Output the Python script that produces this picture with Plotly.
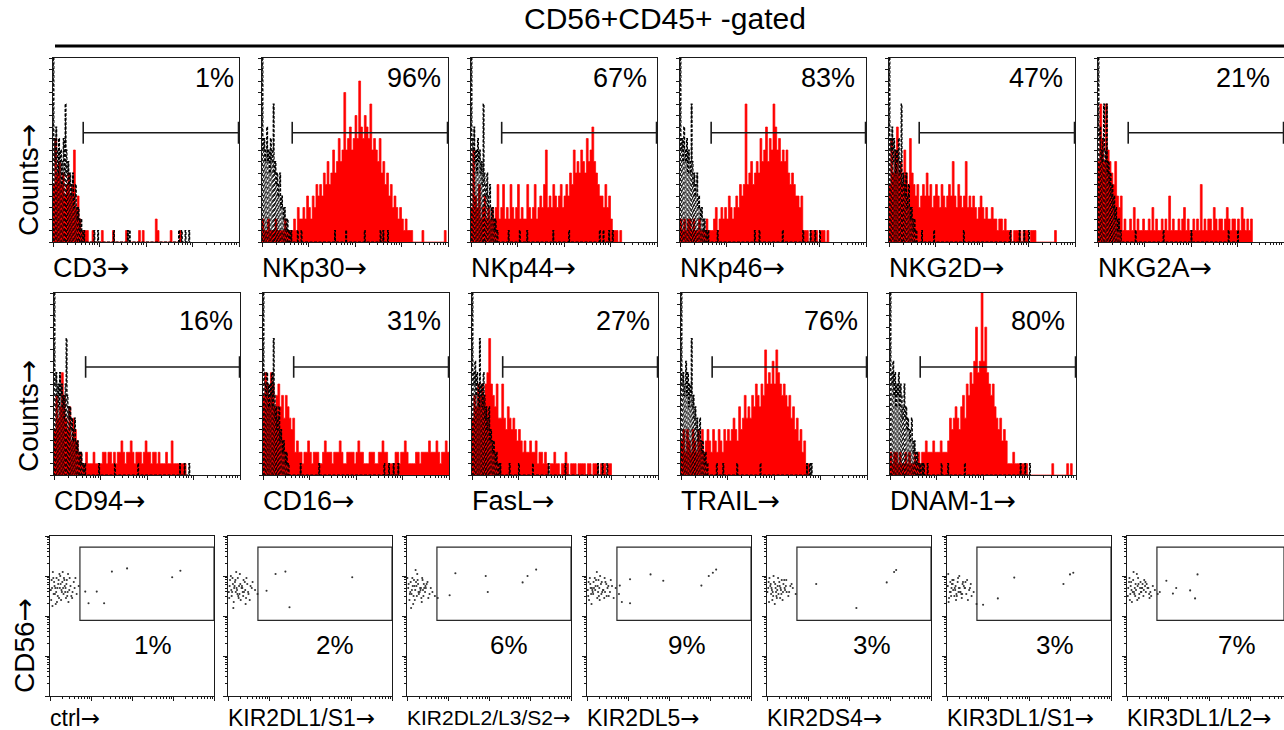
import math
import plotly.graph_objects as go

W, H = 1284, 730
BIN = 0.04          # decades per stained-histogram channel bin
CTL_BIN = 0.02      # decades per control-histogram channel bin
DECADES = 4
HIST_YMAX = 16
FONT = "Liberation Sans, Arial, Helvetica, sans-serif"
ARROW = "<span style='font-family:DejaVu Sans'>\u2192</span>"

title_text = "CD56+CD45+ -gated"

row1_markers = ["CD3", "NKp30", "NKp44", "NKp46", "NKG2D", "NKG2A"]
row1_pct = ["1%", "96%", "67%", "83%", "47%", "21%"]
row2_markers = ["CD94", "CD16", "FasL", "TRAIL", "DNAM-1"]
row2_pct = ["16%", "31%", "27%", "76%", "80%"]
row3_markers = ["ctrl", "KIR2DL1/S1", "KIR2DL2/L3/S2", "KIR2DL5", "KIR2DS4", "KIR3DL1/S1", "KIR3DL1/L2"]
row3_pct = ["1%", "2%", "6%", "9%", "3%", "3%", "7%"]

# gate start (decades) of the positive-marker bar in each histogram
hist_gate_start = [0.65, 0.65, 0.66, 0.67, 0.65, 0.65, 0.68, 0.66, 0.66, 0.67, 0.65]
hist_gate_level = 9.5
# KIR dot-plot gates (decades)
kir_gate_x0, kir_gate_y0, kir_gate_y1 = 0.73, 1.89, 3.72

# ---- stained (red) histograms: counts per channel bin, from channel 0 ----
red_CD3 = [5, 9, 6, 7, 5, 6, 4, 5, 6, 4, 5, 8, 3, 4, 2, 1, 1, 1, 1, 0, 0, 1, 0, 0, 0, 0, 1, 0, 0, 0,
           0, 0, 1, 0, 0, 0, 0, 0, 0, 1, 0, 0, 0, 0, 0, 0, 1, 0, 1, 0, 0, 0, 0, 0, 0, 2, 1, 0, 0, 0,
           0, 0, 0, 1, 0, 0, 0, 0, 1]
red_NKp30 = [2, 1, 1, 2, 1, 1, 1, 2, 1, 1, 1, 1, 2, 1, 1, 1, 1,
             2, 1, 3, 2, 2, 3, 2, 4, 3, 2, 4, 3, 5, 4,
             5, 4, 6, 5, 7, 5, 6, 8, 6, 7, 9, 7, 8, 13,
             8, 9, 10, 8, 9, 11, 9, 14, 10, 9, 11, 10, 9, 12, 8, 9,
             8, 7, 9, 6, 7, 5, 6, 4, 5, 3, 4, 3, 2, 3, 2, 1, 2, 1, 1, 1,
             0, 0, 0, 0, 0, 1, 0, 0, 0, 0, 0, 0, 0, 0, 0, 0, 0, 1]
red_NKp44 = [3, 8, 4, 3, 5, 2, 3, 4, 2, 3, 2, 3, 2,
             3, 5, 2, 3, 5, 2, 3, 2, 5, 3, 2, 3, 5, 2, 3, 2, 2, 5, 3, 2, 3, 5, 2,
             3, 4, 3, 5, 8, 3, 4, 3, 5, 4, 3, 4, 5, 3, 4,
             5, 4, 6, 5, 8, 6, 7, 6, 8, 7, 6, 9, 7, 8, 10, 7, 6, 5, 4,
             4, 3, 5, 3, 4, 2,
             1, 1, 1, 0, 1]
red_NKp46 = [2, 1, 2, 1, 2, 2, 1, 2, 1, 1, 2, 1, 1, 1, 2, 1, 1,
             1, 2, 3, 1, 2, 3, 2, 3, 2, 4, 3, 2, 3, 4,
             3, 5, 4, 5, 12, 5, 6, 7, 5, 6,
             7, 6, 9, 7, 8, 10, 7, 9, 8, 12, 10, 8, 9, 7, 8,
             7, 8, 6, 5, 6, 5, 4, 4, 3, 4,
             1, 1, 1, 0, 1, 1, 1, 1, 0, 1, 1, 1, 0, 1]
red_NKG2D = [5, 9, 6, 8, 10, 6, 7, 5, 8, 6, 5, 9, 6,
             5, 4, 5, 3, 4, 5, 4, 6, 4, 5, 3, 4, 5, 4, 3, 5, 4, 3, 4, 5, 4, 7, 4, 3, 5, 4, 3,
             4, 7, 3, 4, 3, 4, 3, 2, 3, 4, 3,
             2, 3, 2, 2, 3, 2, 2, 1, 2, 2, 1, 2,
             1, 1, 1, 0, 1, 1, 1, 1, 0, 1, 1, 1, 0, 1, 1, 1,
             0, 0, 0, 0, 0, 0, 0, 0, 0, 0, 1]
red_NKG2A = [7, 12, 9, 7, 12, 8, 7, 6, 5, 7, 4, 3, 4,
             1, 2, 1, 1, 2, 1, 3, 1, 2, 1, 1, 2, 1, 1, 2, 1, 3, 1, 2, 1, 1, 2, 1, 2, 1, 4,
             1, 2, 1, 1, 2, 1, 2, 3, 1, 2, 1, 1, 2, 1, 2, 1, 5, 1, 2, 1, 2, 2, 1, 3, 2, 1,
             2, 2, 1, 2, 3, 2, 1, 2, 2, 1, 2, 1, 3, 2, 1, 2, 1, 2]
red_CD94 = [4, 7, 5, 6, 9, 7, 5, 4, 6, 3, 5, 4, 3, 2, 2,
            1, 1, 2, 1, 1, 1, 2, 1, 1, 1, 1, 2, 2, 1, 2, 2, 1, 2, 1, 2, 2, 3, 2, 1, 2, 2,
            3, 2, 1, 2, 2, 2, 1, 2, 3, 2, 2, 1, 2, 2, 1, 2, 1, 1, 1, 2, 1, 1, 3, 1, 1, 1,
            1, 1, 1, 1]
red_CD16 = [7, 9, 8, 7, 9, 8, 6, 7, 8, 6, 7, 5, 7, 6, 5, 4, 5,
            2, 3, 2, 2, 1, 2, 2, 3, 2, 1, 2, 2, 2, 1, 1, 2, 3, 2, 2, 2, 1, 2, 2, 2, 3, 2,
            1, 1, 2, 2, 2, 2, 1, 2, 3, 2, 2, 1, 1, 1, 2, 2, 2, 1, 1, 2, 2, 3, 2, 2, 1, 1,
            1, 1, 2, 2, 1, 2, 2, 3, 2, 1, 1, 1, 1, 2, 2, 1, 2, 2, 2, 2, 3, 2, 2, 2, 3, 2,
            1, 2, 2, 3, 2]
red_FasL = [5, 7, 6, 8, 7, 8, 7, 8, 9, 12, 8, 7, 6, 8, 5,
            5, 8, 5, 4, 6, 5, 4, 5, 4, 3, 4,
            3, 2, 3, 2, 2, 3, 2, 2, 3, 1, 2, 2,
            1, 2, 1, 0, 1, 1, 2, 1, 1, 0, 1, 1, 2, 1, 0, 1, 1, 1, 0, 1, 1, 1, 1, 0, 1, 1,
            0, 1, 1, 1, 0, 1, 1, 1, 0, 1, 1]
red_TRAIL = [3, 4, 2, 4, 3, 2, 4, 3, 2, 4, 3, 4, 2, 3, 4, 3, 2, 4, 3, 2, 4, 3, 2, 4, 3, 4,
             3, 4, 5, 4, 3, 6, 4, 5, 7, 5, 6, 5, 7, 6, 8, 7, 6, 8, 7, 11,
             8, 9, 8, 10, 8, 11, 9, 8, 7, 8,
             7, 6, 7, 5, 6, 4, 5, 3, 4, 2, 3,
             1, 1]
red_DNAM1 = [2, 1, 2, 2, 1, 2, 1, 1, 2, 1, 2, 1, 1, 2, 1, 2, 1,
             2, 2, 3, 2, 2, 2, 3, 2, 2, 2, 3, 2, 2, 2, 3,
             5, 4, 5, 6, 5, 4, 6, 7, 5, 8, 7,
             9, 8, 10, 13, 9, 10, 16, 10, 13,
             9, 8, 7, 8, 6, 5, 4, 5, 3, 4, 3,
             1, 1, 1, 2, 1, 1, 1, 1, 1, 1, 1,
             0, 0, 0, 0, 0, 0, 0, 0, 0, 0, 0, 0, 0, 1, 0, 0, 0, 0, 0, 0, 0, 1, 0, 1]

# ---- isotype control (black dashed): peak counts per fine bin + isolated single events (decades) ----
ctl_CD3 = [16, 9, 7, 10, 8, 6, 9, 7, 8, 5, 7, 9, 6, 12, 8, 6, 7, 5, 6, 4, 5, 6, 3, 4, 5, 3, 2, 3, 2, 1, 2, 1, 0, 1]
ctl_CD3_events = [0.88, 0.95, 1.3, 1.6, 1.65, 2.7, 2.75, 2.85, 2.92]
ctl_NKp30 = [16, 8, 9, 7, 8, 10, 7, 8, 6, 9, 7, 8, 12, 6, 7, 5, 6, 4, 5, 6, 3, 4, 3, 2, 3, 2, 1, 2, 1, 1, 0, 1]
ctl_NKp30_events = [0.75, 0.85, 1.55, 1.8, 2.2, 2.55, 2.6, 2.7]
ctl_NKp44 = [16, 9, 8, 10, 7, 8, 6, 9, 7, 8, 6, 7, 5, 12, 6, 5, 4, 6, 3, 4, 5, 3, 2, 3, 2, 1, 2, 1, 1]
ctl_NKp44_events = [0.8, 1.05, 1.2, 1.75, 2.1, 2.75, 2.85, 2.95, 3.05]
ctl_NKp46 = [16, 8, 9, 7, 10, 8, 7, 9, 6, 8, 7, 6, 12, 7, 5, 6, 4, 5, 6, 3, 4, 3, 2, 3, 2, 1, 2, 1, 1, 0, 1]
ctl_NKp46_events = [0.8, 1.6, 1.7, 2.2, 2.65, 2.8, 2.9, 3.0]
ctl_NKG2D = [16, 9, 8, 10, 7, 9, 8, 6, 8, 7, 9, 6, 7, 12, 5, 6, 5, 4, 6, 3, 4, 5, 3, 2, 3, 2, 1, 2, 1, 1]
ctl_NKG2D_events = [0.7, 0.95, 1.6, 2.6, 2.8, 2.9, 3.0]
ctl_NKG2A = [16, 9, 10, 8, 7, 9, 12, 8, 7, 12, 6, 7, 5, 6, 4, 5, 3, 4, 2, 3, 2, 1, 2, 1, 1]
ctl_NKG2A_events = [0.8, 1.4, 2.0, 2.8, 3.0]
ctl_CD94 = [16, 8, 9, 7, 8, 6, 9, 7, 8, 6, 7, 5, 8, 12, 7, 6, 5, 6, 4, 5, 3, 4, 5, 3, 2, 3, 2, 2, 1, 2, 1, 1, 0, 1]
ctl_CD94_events = [0.95, 1.3, 1.8, 2.7, 2.8, 2.9]
ctl_CD16 = [16, 9, 8, 7, 9, 8, 6, 8, 7, 9, 6, 12, 7, 5, 6, 4, 5, 6, 3, 4, 3, 2, 3, 2, 1, 2, 1, 1]
ctl_CD16_events = [0.8, 1.2, 2.6, 2.7, 2.8, 2.9]
ctl_FasL = [16, 9, 8, 10, 7, 9, 8, 6, 12, 7, 8, 6, 9, 7, 5, 6, 4, 5, 6, 3, 4, 3, 2, 3, 2, 1, 2, 1, 1, 0, 1]
ctl_FasL_events = [0.8, 1.0, 1.3, 1.65, 2.0, 2.7, 2.8, 2.9]
ctl_TRAIL = [16, 8, 9, 7, 8, 10, 7, 9, 6, 8, 7, 12, 6, 7, 5, 6, 4, 5, 3, 4, 5, 3, 2, 3, 2, 1, 2, 1, 1]
ctl_TRAIL_events = [0.75, 0.9, 1.2, 1.7, 2.7, 2.75, 2.8]
ctl_DNAM1 = [16, 9, 8, 10, 7, 9, 6, 8, 7, 9, 6, 8, 7, 5, 6, 8, 5, 6, 4, 5, 4, 3, 4, 5, 3, 2, 3, 2, 1, 2, 1, 1, 0, 1, 1, 0, 1]
ctl_DNAM1_events = [0.8, 1.1, 1.25, 1.6, 2.8, 2.9, 3.0]

hist_red = [red_CD3, red_NKp30, red_NKp44, red_NKp46, red_NKG2D, red_NKG2A,
            red_CD94, red_CD16, red_FasL, red_TRAIL, red_DNAM1]
hist_ctl = [ctl_CD3, ctl_NKp30, ctl_NKp44, ctl_NKp46, ctl_NKG2D, ctl_NKG2A,
            ctl_CD94, ctl_CD16, ctl_FasL, ctl_TRAIL, ctl_DNAM1]
hist_ctl_events = [ctl_CD3_events, ctl_NKp30_events, ctl_NKp44_events, ctl_NKp46_events,
                   ctl_NKG2D_events, ctl_NKG2A_events, ctl_CD94_events, ctl_CD16_events,
                   ctl_FasL_events, ctl_TRAIL_events, ctl_DNAM1_events]

# ---- KIR dot plots: (log10 KIR, log10 CD56) events ----
kir_ctrl_x = [0.05, 0.12, 0.2, 0.28, 0.35, 0.42, 0.5, 0.08, 0.15, 0.22, 0.3, 0.38, 0.45, 0.55, 0.03, 0.1, 0.18, 0.25, 0.33, 0.4,
              0.48, 0.6, 0.07, 0.14, 0.21, 0.29, 0.36, 0.44, 0.52, 0.02, 0.11, 0.19, 0.27, 0.34, 0.43, 0.58, 0.65, 0.06, 0.16, 0.24,
              0.31, 0.39, 0.47, 0.09, 0.17, 0.26, 0.37, 0.7, 0.13, 0.23, 0.32, 0.41, 0.04, 0.54, 0.62,
              0.86, 1.14, 0.94, 1.32, 1.51, 1.88, 2.98, 3.18]
kir_ctrl_y = [2.7, 2.55, 2.8, 2.65, 2.9, 2.5, 2.75, 2.95, 2.6, 2.45, 2.85, 2.7, 2.35, 2.6, 2.4, 2.85, 2.7, 3.0, 2.55, 2.8,
              2.95, 2.7, 3.1, 2.3, 2.9, 2.6, 2.75, 3.05, 2.5, 2.65, 2.75, 2.5, 2.4, 2.95, 2.6, 2.85, 2.55, 2.25, 2.95, 2.7,
              3.1, 2.45, 2.65, 2.55, 2.35, 2.8, 2.6, 2.75, 2.7, 3.05, 2.7, 2.9, 2.9, 2.45, 2.95,
              2.61, 2.61, 2.32, 2.32, 3.11, 3.19, 2.97, 3.13]
kir_2dl1_x = [0.04, 0.1, 0.18, 0.26, 0.33, 0.41, 0.5, 0.58, 0.07, 0.14, 0.22, 0.3, 0.37, 0.45, 0.53, 0.02, 0.12, 0.2, 0.28, 0.35,
              0.43, 0.6, 0.09, 0.16, 0.24, 0.31, 0.39, 0.47, 0.66, 0.05, 0.13, 0.21, 0.29, 0.36, 0.44, 0.55, 0.08, 0.17, 0.25, 0.34,
              0.42, 0.72, 0.03, 0.11, 0.19, 0.27, 0.38, 0.49, 0.15, 0.23,
              0.94, 1.16, 1.4, 1.5, 3.03]
kir_2dl1_y = [2.75, 2.6, 2.9, 2.45, 2.7, 2.85, 2.55, 2.7, 3.0, 2.35, 2.65, 2.8, 2.5, 2.95, 2.4, 2.6, 2.8, 3.1, 2.55, 2.7,
              2.3, 2.85, 2.5, 2.75, 2.95, 2.4, 2.6, 2.8, 2.65, 2.9, 2.2, 2.7, 3.05, 2.6, 2.45, 2.75, 2.65, 2.85, 2.5, 2.75,
              2.65, 2.55, 2.45, 2.95, 2.6, 2.75, 2.9, 2.6, 2.7, 2.55,
              2.63, 3.05, 3.11, 2.22, 2.97]
kir_2dl2_x = [0.03, 0.09, 0.16, 0.23, 0.31, 0.38, 0.46, 0.55, 0.06, 0.13, 0.2, 0.27, 0.35, 0.42, 0.5, 0.62, 0.01, 0.11, 0.18, 0.25,
              0.33, 0.4, 0.48, 0.58, 0.08, 0.15, 0.22, 0.29, 0.37, 0.44, 0.52, 0.04, 0.12, 0.19, 0.26, 0.34, 0.41, 0.68, 0.07, 0.14,
              0.21, 0.28, 0.36, 0.45, 0.1, 0.17, 0.24, 0.32, 0.39, 0.75,
              1.18, 1.92, 1.97, 2.82, 2.94, 3.15, 1.04]
kir_2dl2_y = [2.7, 2.85, 2.5, 2.75, 2.6, 2.9, 2.7, 2.55, 2.4, 2.95, 2.65, 2.8, 2.45, 2.7, 2.85, 2.6, 2.95, 2.55, 2.75, 3.05,
              2.65, 2.5, 2.8, 2.7, 2.6, 2.3, 2.85, 2.55, 2.95, 2.6, 2.45, 2.8, 2.65, 2.4, 2.9, 2.7, 2.8, 2.5, 2.55, 2.75,
              3.15, 2.6, 2.35, 2.75, 2.2, 2.9, 2.5, 2.7, 2.65, 2.45,
              3.07, 3.0, 2.6, 2.84, 3.0, 3.16, 2.52]
kir_2dl5_x = [0.02, 0.08, 0.15, 0.22, 0.3, 0.37, 0.45, 0.53, 0.61, 0.05, 0.12, 0.19, 0.27, 0.34, 0.42, 0.5, 0.58, 0.04, 0.1, 0.17,
              0.25, 0.32, 0.4, 0.47, 0.56, 0.7, 0.07, 0.14, 0.21, 0.29, 0.36, 0.44, 0.52, 0.65, 0.03, 0.11, 0.2, 0.28, 0.35, 0.43,
              0.78, 0.09, 0.16, 0.24, 0.31, 0.39, 0.48, 0.85, 0.13, 0.26,
              0.8, 1.05, 1.55, 1.86, 2.79, 2.97, 3.15, 3.07, 1.05]
kir_2dl5_y = [2.65, 2.8, 2.55, 2.9, 2.7, 2.6, 2.85, 2.5, 2.75, 2.4, 2.7, 2.95, 2.6, 2.8, 2.45, 2.7, 2.9, 2.85, 2.55, 2.7,
              2.45, 3.0, 2.65, 2.8, 2.6, 2.7, 2.95, 2.6, 2.75, 2.5, 2.85, 2.6, 2.75, 2.45, 2.5, 2.3, 2.65, 2.9, 2.55, 2.95,
              2.55, 2.7, 2.85, 3.1, 2.4, 2.65, 2.5, 2.35, 2.65, 2.75,
              2.76, 2.92, 3.04, 2.88, 2.76, 3.0, 3.16, 3.08, 2.32]
kir_2ds4_x = [0.03, 0.1, 0.17, 0.25, 0.32, 0.4, 0.48, 0.57, 0.06, 0.13, 0.21, 0.28, 0.36, 0.44, 0.52, 0.01, 0.09, 0.16, 0.23, 0.31,
              0.39, 0.47, 0.63, 0.05, 0.12, 0.2, 0.27, 0.35, 0.43, 0.54, 0.08, 0.15, 0.22, 0.3, 0.38, 0.46, 0.7, 0.04, 0.11, 0.19,
              0.26, 0.34, 0.42, 0.14, 0.24, 0.33, 0.6,
              2.18, 2.92, 3.1, 3.15, 1.2]
kir_2ds4_y = [2.7, 2.55, 2.85, 2.65, 2.45, 2.8, 2.6, 2.75, 2.95, 2.4, 2.7, 2.55, 2.9, 2.65, 2.5, 2.6, 2.8, 3.0, 2.5, 2.75,
              2.6, 2.9, 2.7, 2.35, 2.65, 2.8, 2.95, 2.55, 2.7, 2.6, 2.75, 2.5, 2.6, 2.85, 2.4, 2.75, 2.55, 2.85, 2.7, 2.3,
              2.75, 2.65, 2.9, 2.6, 2.45, 2.7, 2.8,
              2.2, 2.84, 3.1, 3.15, 2.8]
kir_3dl1s1_x = [0.02, 0.09, 0.16, 0.24, 0.31, 0.39, 0.47, 0.56, 0.65, 0.05, 0.12, 0.2, 0.27, 0.35, 0.43, 0.51, 0.03, 0.11, 0.18, 0.26,
                0.33, 0.41, 0.49, 0.6, 0.07, 0.14, 0.22, 0.29, 0.37, 0.45, 0.54, 0.04, 0.13, 0.21, 0.28, 0.36, 0.44, 0.72, 0.08, 0.15,
                0.23, 0.3, 0.38, 0.1, 0.19, 0.32, 0.58,
                1.64, 1.24, 3.0, 2.84, 3.08, 0.88]
kir_3dl1s1_y = [2.75, 2.6, 2.9, 2.5, 2.7, 2.85, 2.55, 2.7, 2.6, 2.45, 2.8, 2.65, 2.95, 2.55, 2.7, 2.4, 3.05, 2.7, 2.5, 2.85,
                2.6, 2.75, 2.9, 2.5, 2.6, 2.8, 2.4, 2.7, 2.55, 2.85, 2.65, 2.35, 2.9, 2.75, 2.6, 2.45, 2.7, 2.3, 2.85, 2.65,
                2.55, 3.0, 2.8, 2.5, 2.7, 2.6, 2.8,
                2.96, 2.44, 3.04, 2.8, 3.08, 2.28]
kir_3dl1l2_x = [0.03, 0.1, 0.18, 0.26, 0.34, 0.42, 0.5, 0.59, 0.68, 0.06, 0.14, 0.21, 0.29, 0.37, 0.45, 0.54, 0.63, 0.02, 0.09, 0.17,
                0.24, 0.32, 0.4, 0.48, 0.57, 0.75, 0.07, 0.15, 0.22, 0.3, 0.38, 0.46, 0.55, 0.05, 0.12, 0.19, 0.27, 0.35, 0.44, 0.52,
                0.8, 0.08, 0.16, 0.25, 0.33, 0.41, 0.11, 0.2, 0.28, 0.36,
                1.2, 1.54, 1.72, 1.66, 0.96, 1.12]
kir_3dl1l2_y = [2.7, 2.85, 2.55, 2.75, 2.6, 2.9, 2.7, 2.5, 2.65, 2.95, 2.6, 2.8, 2.45, 2.7, 2.85, 2.55, 2.75, 2.5, 2.75, 2.6,
                3.05, 2.7, 2.5, 2.8, 2.6, 2.55, 2.4, 2.9, 2.65, 2.55, 2.8, 2.6, 2.45, 2.85, 2.35, 2.7, 2.95, 2.6, 2.75, 2.7,
                2.6, 2.55, 3.1, 2.4, 2.85, 2.65, 2.65, 2.5, 2.8, 2.7,
                2.7, 2.64, 3.04, 2.44, 2.88, 2.56]
kir_x = [kir_ctrl_x, kir_2dl1_x, kir_2dl2_x, kir_2dl5_x, kir_2ds4_x, kir_3dl1s1_x, kir_3dl1l2_x]
kir_y = [kir_ctrl_y, kir_2dl1_y, kir_2dl2_y, kir_2dl5_y, kir_2ds4_y, kir_3dl1s1_y, kir_3dl1l2_y]

# ---------------------------------------------------------------- layout helpers
def fx(px):
    return px / W

def fy(py):
    return 1 - py / H

major = list(range(DECADES + 1))
minor = [d + math.log10(k) for d in range(DECADES) for k in range(2, 10)]

fig = go.Figure()
shapes = []
annotations = []
layout_axes = {}

def axis_names(n):
    return ("xaxis" if n == 1 else f"xaxis{n}", "yaxis" if n == 1 else f"yaxis{n}",
            "x" if n == 1 else f"x{n}", "y" if n == 1 else f"y{n}")

def base_axis(domain, rng, tickvals, minorvals, ticklen):
    d = dict(domain=domain, range=rng, showgrid=False, zeroline=False, showline=True, mirror=True,
             linecolor="#1a1a1a", linewidth=1.2, ticks="outside", tickvals=tickvals, ticklen=ticklen,
             tickwidth=1, tickcolor="#1a1a1a", showticklabels=False, fixedrange=True)
    if minorvals is not None:
        d["minor"] = dict(tickvals=minorvals, ticks="outside", ticklen=2, tickwidth=1, tickcolor="#1a1a1a")
    return d

# histogram panel geometry (pixels)
hist_geo = []
for k in range(6):
    hist_geo.append((53 + k * 209, 58, 186, 184))
for k in range(5):
    hist_geo.append((54 + k * 209, 293, 186, 182))
pct_pad = [3, 5, 8, 9, 10, 12, 5, 6, 6, 7, 9]
hist_labels = row1_markers + row2_markers
hist_pcts = row1_pct + row2_pct

for i in range(11):
    n = i + 1
    xa, ya, xr, yr = axis_names(n)
    left, top, w, h = hist_geo[i]
    layout_axes[xa] = base_axis([fx(left), fx(left + w)], [0, DECADES], major, minor, 4)
    layout_axes[xa]["anchor"] = yr
    layout_axes[ya] = base_axis([fy(top + h), fy(top)], [0, HIST_YMAX], list(range(0, HIST_YMAX + 1)), None, 3)
    layout_axes[ya]["anchor"] = xr

    red = hist_red[i]
    xs = [j * BIN for j in range(len(red))] + [len(red) * BIN]
    ys = list(red) + [0]
    fig.add_trace(go.Scatter(x=xs, y=ys, mode="lines", line=dict(shape="hv", color="#ff0000", width=0.7),
                             fill="tozeroy", fillcolor="#ff0000", xaxis=xr, yaxis=yr, hoverinfo="skip",
                             showlegend=False))

    ctl = list(hist_ctl[i])
    for ev in hist_ctl_events[i]:
        idx = int(round(ev / CTL_BIN))
        while len(ctl) <= idx:
            ctl.append(0)
        ctl[idx] = max(ctl[idx], 1)
    # control drawn as dashed needles (one per channel, drawn top-down) plus a dashed step outline
    nx, ny = [], []
    for j, c in enumerate(ctl):
        if c > 0:
            xc = (j + 0.5) * CTL_BIN
            nx += [xc, xc, None]
            ny += [c, 0, None]
    fig.add_trace(go.Scatter(x=nx, y=ny, mode="lines",
                             line=dict(color="#000000", width=0.9, dash="3px,2px"),
                             xaxis=xr, yaxis=yr, hoverinfo="skip", showlegend=False, connectgaps=False))
    cx = [j * CTL_BIN for j in range(len(ctl))] + [len(ctl) * CTL_BIN]
    cy = ctl + [0]
    fig.add_trace(go.Scatter(x=cx, y=cy, mode="lines",
                             line=dict(shape="hv", color="#000000", width=1.1, dash="3px,1.5px"),
                             xaxis=xr, yaxis=yr, hoverinfo="skip", showlegend=False))

    g0 = hist_gate_start[i]
    g1 = DECADES - 0.01
    cap = 0.95
    for (x0, y0, x1, y1) in [(g0, hist_gate_level, g1, hist_gate_level),
                             (g0, hist_gate_level - cap, g0, hist_gate_level + cap),
                             (g1, hist_gate_level - cap, g1, hist_gate_level + cap)]:
        shapes.append(dict(type="line", xref=xr, yref=yr, x0=x0, y0=y0, x1=x1, y1=y1,
                           line=dict(color="#1a1a1a", width=1.6)))

    pct_y = 78 if i < 6 else 321
    annotations.append(dict(text=hist_pcts[i], xref="paper", yref="paper", x=fx(left + w - pct_pad[i]),
                            y=fy(pct_y), xanchor="right", yanchor="middle", showarrow=False,
                            font=dict(family=FONT, size=27, color="#000")))
    lab_y = 267 if i < 6 else 500
    annotations.append(dict(text=hist_labels[i] + ARROW, xref="paper", yref="paper", x=fx(left - 2),
                            y=fy(lab_y), xanchor="left", yanchor="middle", showarrow=False,
                            font=dict(family=FONT, size=27, color="#000")))

# KIR dot plots
dot_lefts = [50, 228, 407, 587, 767, 947, 1127]
dot_w, dot_top, dot_h = 164, 536, 160
dot_pct_frac = [0.63, 0.65, 0.62, 0.61, 0.64, 0.66, 0.67]
for i in range(7):
    n = 12 + i
    xa, ya, xr, yr = axis_names(n)
    left = dot_lefts[i]
    w = min(dot_w, W - left)
    xmax = DECADES * w / dot_w
    layout_axes[xa] = base_axis([fx(left), fx(left + w)], [0, xmax], major, minor, 4)
    layout_axes[xa]["anchor"] = yr
    layout_axes[ya] = base_axis([fy(dot_top + dot_h), fy(dot_top)], [0, DECADES], major, minor, 4)
    layout_axes[ya]["anchor"] = xr
    m = min(len(kir_x[i]), len(kir_y[i]))
    fig.add_trace(go.Scatter(x=kir_x[i][:m], y=kir_y[i][:m], mode="markers",
                             marker=dict(size=2.1, color="#333333", line=dict(width=0)),
                             xaxis=xr, yaxis=yr, hoverinfo="skip", showlegend=False))
    shapes.append(dict(type="rect", xref=xr, yref=yr, x0=kir_gate_x0, x1=xmax, y0=kir_gate_y0, y1=kir_gate_y1,
                       line=dict(color="#2a2a2a", width=1.2)))
    annotations.append(dict(text=row3_pct[i], xref="paper", yref="paper", x=fx(left + dot_pct_frac[i] * dot_w),
                            y=fy(645), xanchor="center", yanchor="middle", showarrow=False,
                            font=dict(family=FONT, size=26, color="#000")))
    annotations.append(dict(text=row3_markers[i] + ARROW, xref="paper", yref="paper", x=fx(left - 2),
                            y=fy(718), xanchor="left", yanchor="middle", showarrow=False,
                            font=dict(family=FONT, size=21 if len(row3_markers[i]) > 11 else 23, color="#000")))

# titles / axis titles
annotations.append(dict(text=title_text, xref="paper", yref="paper", x=fx(665), y=fy(18), xanchor="center",
                        yanchor="middle", showarrow=False, font=dict(family=FONT, size=30, color="#000")))
shapes.append(dict(type="line", xref="paper", yref="paper", x0=fx(55), x1=1, y0=fy(46), y1=fy(46),
                   line=dict(color="#000", width=3)))
for (ycen, txt, xcen) in [(180, "Counts" + ARROW, 28), (416, "Counts" + ARROW, 28), (645, "CD56" + ARROW, 24)]:
    annotations.append(dict(text=txt, xref="paper", yref="paper", x=fx(xcen), y=fy(ycen), xanchor="center",
                            yanchor="middle", textangle=-90, showarrow=False,
                            font=dict(family=FONT, size=28, color="#000")))

fig.update_layout(width=W, height=H, margin=dict(l=0, r=0, t=0, b=0), paper_bgcolor="white",
                  plot_bgcolor="white", showlegend=False, shapes=shapes, annotations=annotations,
                  **layout_axes)
fig.write_html("out.html", config={"displayModeBar": False},
               post_script="document.body.style.margin='0';document.body.style.overflow='hidden';")
